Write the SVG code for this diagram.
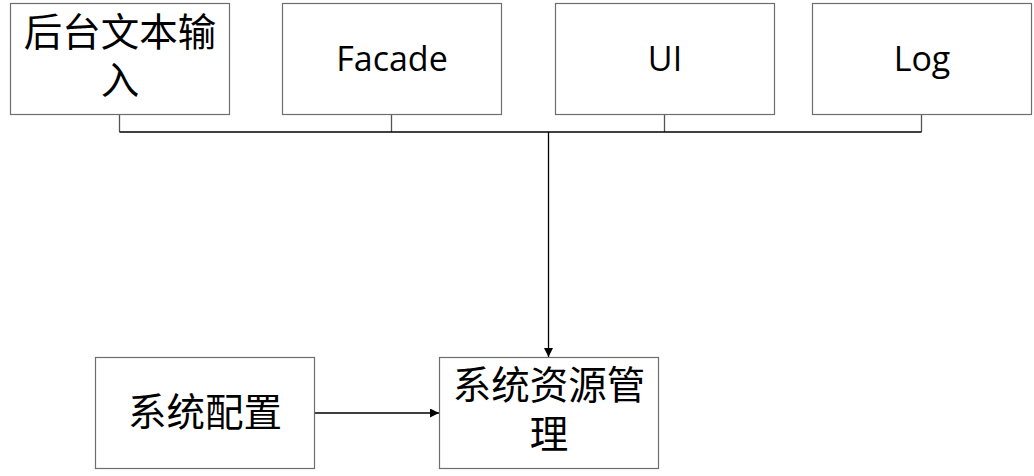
<svg xmlns="http://www.w3.org/2000/svg" width="1034" height="476" viewBox="0 0 1034 476">
<defs>
<style>
.box{fill:#fff;stroke:#6e6e6e;stroke-width:1.2}
.cn{font-family:"Liberation Sans","Noto Sans CJK SC",sans-serif;font-size:38.5px;fill:#000;text-anchor:middle}
.en{font-family:"Open Sans","Liberation Sans",sans-serif;font-size:34px;fill:#000;text-anchor:middle}
.ln{fill:none;stroke:#000;stroke-width:1.3}
.lg{fill:none;stroke:#555;stroke-width:1.3}
</style>
<marker id="arr" viewBox="0 0 10 10" refX="10" refY="5" markerWidth="9" markerHeight="9" markerUnits="userSpaceOnUse" orient="auto">
<path d="M0,0 L10,5 L0,10 z" fill="#000"/>
</marker>
</defs>
<g id="connectors">
<path class="lg" d="M119.5,114 V132 M391.5,114 V132 M664.5,114 V132 M921.5,114 V132"/>
<path class="ln" d="M119.5,132 H921.5"/>
<path class="ln" d="M548.5,132 V357" marker-end="url(#arr)"/>
<path class="ln" d="M314,413 H439" marker-end="url(#arr)"/>
</g>
<g id="n1"><rect class="box" x="10.5" y="3.5" width="219" height="111"/>
<text class="cn" x="120" y="46">后台文本输</text><text class="cn" x="120" y="94">入</text></g>
<g id="n2"><rect class="box" x="282.5" y="3.5" width="219" height="111"/>
<text class="en" x="392" y="71">Facade</text></g>
<g id="n3"><rect class="box" x="555.5" y="3.5" width="219" height="111"/>
<text class="en" x="665" y="71">UI</text></g>
<g id="n4"><rect class="box" x="812.5" y="3.5" width="219" height="111"/>
<text class="en" x="922" y="71">Log</text></g>
<g id="n5"><rect class="box" x="95.5" y="357.5" width="219" height="111"/>
<text class="cn" x="205" y="426">系统配置</text></g>
<g id="n6"><rect class="box" x="439.5" y="357.5" width="219" height="111"/>
<text class="cn" x="549" y="399">系统资源管</text><text class="cn" x="549" y="448">理</text></g>
</svg>
